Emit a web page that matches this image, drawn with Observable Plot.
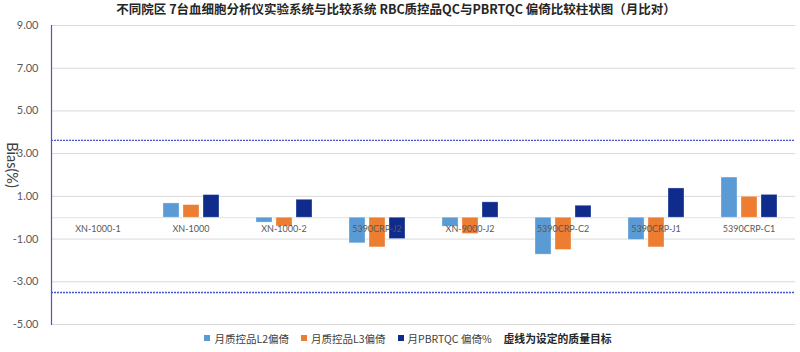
<!DOCTYPE html>
<html><head><meta charset="utf-8">
<script src="https://cdn.jsdelivr.net/npm/d3@7"></script>
<script src="https://cdn.jsdelivr.net/npm/@observablehq/plot@0.6"></script>
<style>
body{margin:0;background:#fff;width:800px;height:352px;overflow:hidden;position:relative;font-family:"Noto Sans CJK SC","Noto Sans",sans-serif}
#title{height:18px;line-height:18px;text-align:center;font-size:12.5px;font-weight:bold;color:#262626;padding-right:8px;white-space:nowrap}
#ylabel{position:absolute;left:12px;top:165px;transform:translate(-50%,-50%) rotate(90deg);font-family:Lato,"Noto Sans",sans-serif;font-size:14.5px;color:#404040;white-space:nowrap}
#legend{display:flex;justify-content:center;align-items:center;height:16px;font-size:10.5px;color:#404040;padding-left:16px}
#legend .item{display:flex;align-items:center;margin-right:12px}
#legend .sw{width:6px;height:6px;margin-right:4px}
#legend .note{font-weight:bold;color:#262626;font-size:10.8px}
</style></head>
<body>
<div id="title">不同院区 7台血细胞分析仪实验系统与比较系统 RBC质控品QC与PBRTQC 偏倚比较柱状图（月比对）</div>
<div id="chart"></div>
<div id="legend"></div>
<div id="ylabel">Bias(%)</div>
<script>
const categories = ["XN-1000-1","XN-1000","XN-1000-2","5390CRP-J2","XN-9000-J2","5390CRP-C2","5390CRP-J1","5390CRP-C1"];
const seriesNames = ["月质控品L2偏倚","月质控品L3偏倚","月PBRTQC 偏倚%"];
const l2Bias = [0, 0.67, -0.23, -1.20, -0.42, -1.73, -1.04, 1.88];
const l3Bias = [0, 0.59, -0.41, -1.39, -0.76, -1.51, -1.39, 0.98];
const pbrtqcBias = [0, 1.06, 0.84, -1.00, 0.72, 0.56, 1.37, 1.07];
const qualityTarget = [3.62, -3.50];
const yTicks = [-5, -3, -1, 1, 3, 5, 7, 9];
const colors = ["#5b9bd5", "#ed7d31", "#0f2b8c"];
const noteText = "虚线为设定的质量目标";

const seriesValues = [l2Bias, l3Bias, pbrtqcBias];
const rows = [];
categories.forEach((c, i) => seriesNames.forEach((s, j) => rows.push({category: c, series: s, value: seriesValues[j][i]})));

const chart = Plot.plot({
  width: 800, height: 312,
  marginTop: 7, marginBottom: 6, marginLeft: 51, marginRight: 5,
  style: {fontFamily: "Lato, 'Noto Sans', sans-serif", background: "white"},
  fx: {domain: categories, padding: 0, axis: null, label: null},
  x: {domain: seriesNames, paddingInner: 0.21, paddingOuter: 0.85, axis: null},
  y: {domain: [-5, 9], axis: null},
  color: {domain: seriesNames, range: colors},
  marks: [
    Plot.ruleY(yTicks, {stroke: "#d9d9d9", strokeWidth: 1}),
    Plot.ruleY([0], {stroke: "#e3e3e3", strokeWidth: 1}),
    Plot.barY(rows, {fx: "category", x: "series", y: "value", fill: "series", stroke: "#ffffff", strokeOpacity: 0.4, strokeWidth: 0.8}),
    Plot.ruleY(qualityTarget, {stroke: "#4656c8", strokeWidth: 1.4, strokeDasharray: "2,1"}),
    Plot.text(categories, {fx: d => d, y: 0, text: d => d, dy: 11, fontSize: 9, fill: "#595959"}),
    Plot.frame({anchor: "left", facetAnchor: "left", stroke: "#4a55c8", strokeWidth: 1.2}),
    Plot.axisY({ticks: yTicks, tickFormat: d => d.toFixed(2), tickSize: 0, tickPadding: 13, label: null, fontSize: 11, fill: "#595959"})
  ]
});
document.getElementById("chart").appendChild(chart);

const legend = d3.select("#legend");
seriesNames.forEach((s, i) => {
  const it = legend.append("div").attr("class", "item");
  it.append("div").attr("class", "sw").style("background", colors[i]);
  it.append("span").text(s);
});
legend.append("span").attr("class", "note").text(noteText);
</script>
</body></html>
